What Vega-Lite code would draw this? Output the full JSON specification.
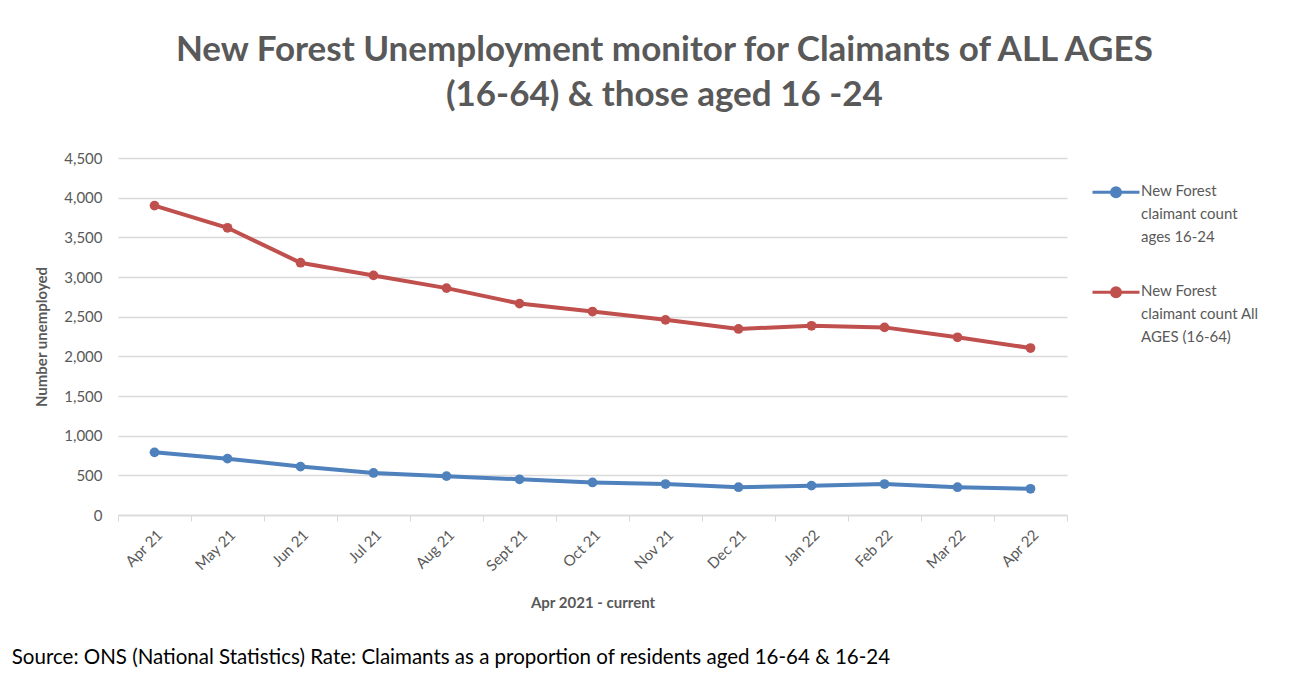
{
  "$schema": "https://vega.github.io/schema/vega-lite/v6.json",
  "background": "white",
  "padding": {"left": 11, "top": 33, "right": 8, "bottom": 8},
  "title": {
    "text": ["New Forest Unemployment monitor for Claimants of ALL AGES", "(16-64) & those aged 16 -24"],
    "font": "Lato",
    "fontSize": 35,
    "fontWeight": "bold",
    "color": "#595959",
    "lineHeight": 45,
    "anchor": "middle",
    "frame": "bounds",
    "offset": 38,
    "dx": 29
  },
  "config": {
    "font": "Lato",
    "view": {"stroke": null},
    "style": {"guide-label": {"lineHeight": 23}}
  },
  "vconcat": [
    {
      "width": 949,
      "height": 357,
      "title": {
        "text": "Source: ONS (National Statistics) Rate: Claimants as a proportion of residents aged 16-64  & 16-24",
        "orient": "bottom",
        "anchor": "start",
        "frame": "bounds",
        "font": "Lato",
        "fontSize": 20.5,
        "fontWeight": "normal",
        "color": "#000000",
        "offset": 37,
        "dx": -23
      },
      "data": {
        "values": [
          {"month": "Apr 21", "series": "New Forest|claimant count|ages 16-24", "value": 790},
          {"month": "May 21", "series": "New Forest|claimant count|ages 16-24", "value": 710},
          {"month": "Jun 21", "series": "New Forest|claimant count|ages 16-24", "value": 610},
          {"month": "Jul 21", "series": "New Forest|claimant count|ages 16-24", "value": 530},
          {"month": "Aug 21", "series": "New Forest|claimant count|ages 16-24", "value": 490},
          {"month": "Sept 21", "series": "New Forest|claimant count|ages 16-24", "value": 450},
          {"month": "Oct 21", "series": "New Forest|claimant count|ages 16-24", "value": 410},
          {"month": "Nov 21", "series": "New Forest|claimant count|ages 16-24", "value": 390},
          {"month": "Dec 21", "series": "New Forest|claimant count|ages 16-24", "value": 350},
          {"month": "Jan 22", "series": "New Forest|claimant count|ages 16-24", "value": 370},
          {"month": "Feb 22", "series": "New Forest|claimant count|ages 16-24", "value": 390},
          {"month": "Mar 22", "series": "New Forest|claimant count|ages 16-24", "value": 350},
          {"month": "Apr 22", "series": "New Forest|claimant count|ages 16-24", "value": 330},
          {"month": "Apr 21", "series": "New Forest|claimant count All|AGES (16-64)", "value": 3900},
          {"month": "May 21", "series": "New Forest|claimant count All|AGES (16-64)", "value": 3620},
          {"month": "Jun 21", "series": "New Forest|claimant count All|AGES (16-64)", "value": 3180},
          {"month": "Jul 21", "series": "New Forest|claimant count All|AGES (16-64)", "value": 3020},
          {"month": "Aug 21", "series": "New Forest|claimant count All|AGES (16-64)", "value": 2860},
          {"month": "Sept 21", "series": "New Forest|claimant count All|AGES (16-64)", "value": 2665},
          {"month": "Oct 21", "series": "New Forest|claimant count All|AGES (16-64)", "value": 2565},
          {"month": "Nov 21", "series": "New Forest|claimant count All|AGES (16-64)", "value": 2460},
          {"month": "Dec 21", "series": "New Forest|claimant count All|AGES (16-64)", "value": 2345},
          {"month": "Jan 22", "series": "New Forest|claimant count All|AGES (16-64)", "value": 2385},
          {"month": "Feb 22", "series": "New Forest|claimant count All|AGES (16-64)", "value": 2365},
          {"month": "Mar 22", "series": "New Forest|claimant count All|AGES (16-64)", "value": 2240},
          {"month": "Apr 22", "series": "New Forest|claimant count All|AGES (16-64)", "value": 2105}
        ]
      },
      "mark": {"type": "line", "strokeWidth": 4, "point": {"filled": true, "size": 95}},
      "encoding": {
        "x": {
          "field": "month",
          "type": "ordinal",
          "sort": null,
          "scale": {"type": "band", "paddingInner": 0, "paddingOuter": 0},
          "axis": {
            "title": "Apr 2021 - current",
            "titleFont": "Lato",
            "titleFontSize": 15,
            "titleFontWeight": "bold",
            "titleColor": "#595959",
            "titlePadding": 22,
            "labelAngle": -45,
            "labelFontSize": 15,
            "labelColor": "#595959",
            "labelPadding": 6,
            "tickBand": "extent",
            "ticks": true,
            "tickSize": 6,
            "tickColor": "#d9d9d9",
            "domainColor": "#d9d9d9",
            "domainWidth": 1.5,
            "grid": false
          }
        },
        "y": {
          "field": "value",
          "type": "quantitative",
          "scale": {"domain": [0, 4500], "nice": false},
          "axis": {
            "title": "Number unemployed",
            "titleFont": "Lato",
            "titleFontSize": 15,
            "titleFontWeight": "bold",
            "titleColor": "#595959",
            "titlePadding": 14,
            "values": [0, 500, 1000, 1500, 2000, 2500, 3000, 3500, 4000, 4500],
            "format": ",.0f",
            "labelFontSize": 15,
            "labelColor": "#595959",
            "labelPadding": 16,
            "ticks": false,
            "domain": false,
            "grid": true,
            "gridColor": "#d9d9d9",
            "gridWidth": 1.5
          }
        },
        "color": {
          "field": "series",
          "type": "nominal",
          "scale": {
            "domain": ["New Forest|claimant count|ages 16-24", "New Forest|claimant count All|AGES (16-64)"],
            "range": ["#4f81bd", "#c0504d"]
          },
          "legend": {
            "title": null,
            "orient": "none",
            "legendX": 973,
            "legendY": 1,
            "labelExpr": "split(datum.label, '|')",
            "labelFontSize": 15,
            "labelColor": "#595959",
            "labelLimit": 0,
            "labelBaseline": "top",
            "labelOffset": 0,
            "rowPadding": 14,
            "symbolType": "M-1,0.35H1M-0.19,0.35a0.19,0.19 0 1,0 0.38,0a0.19,0.19 0 1,0 -0.38,0",
            "symbolSize": 2209,
            "symbolStrokeWidth": 3,
            "symbolOpacity": 1
          }
        }
      }
    }
  ]
}
